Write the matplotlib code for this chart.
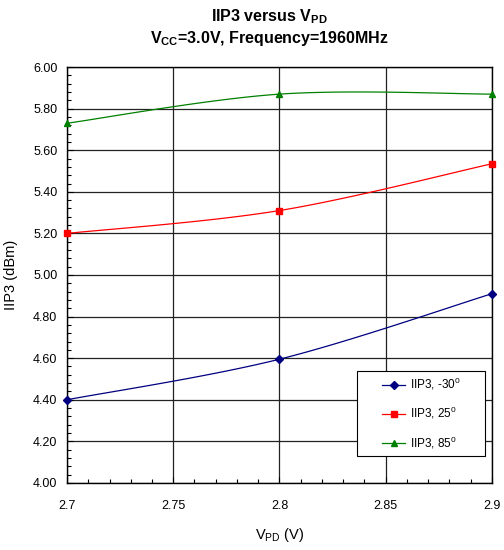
import numpy as np
import matplotlib
matplotlib.use('Agg')
import matplotlib.pyplot as plt
from matplotlib.ticker import MultipleLocator, FormatStrFormatter
from matplotlib.patches import Rectangle

plt.rcParams['font.family'] = ['Liberation Sans', 'DejaVu Sans']
plt.rcParams['mathtext.fontset'] = 'custom'
plt.rcParams['mathtext.rm'] = 'Liberation Sans'
plt.rcParams['mathtext.it'] = 'Liberation Sans'
plt.rcParams['mathtext.bf'] = 'Liberation Sans:bold'
plt.rcParams['mathtext.default'] = 'regular'

# data
vpd = [2.7, 2.8, 2.9]
iip3_m30 = [4.40, 4.595, 4.91]
iip3_25 = [5.20, 5.31, 5.535]
iip3_85 = [5.73, 5.87, 5.87]
labels = ['IIP3, -30$^0$', 'IIP3, 25$^0$', 'IIP3, 85$^0$']
colors = ['#000080', '#ff0000', '#008000']
markers = ['D', 's', '^']


def smooth(x, y, n=30):
    # excel style smoothed line (bezier between points)
    x = np.asarray(x, float)
    y = np.asarray(y, float)
    P = np.column_stack([x, y])
    out = []
    for i in range(len(P) - 1):
        p0 = P[i - 1] if i > 0 else P[i]
        p1 = P[i]
        p2 = P[i + 1]
        p3 = P[i + 2] if i + 2 < len(P) else P[i + 1]
        c1 = p1 + (p2 - p0) / 6.0
        c2 = p2 - (p3 - p1) / 6.0
        t = np.linspace(0, 1, n)[:, None]
        seg = ((1 - t) ** 3) * p1 + 3 * ((1 - t) ** 2) * t * c1 + 3 * (1 - t) * t ** 2 * c2 + t ** 3 * p2
        out.append(seg if i == 0 else seg[1:])
    s = np.vstack(out)
    return s[:, 0], s[:, 1]


fig = plt.figure(figsize=(5.04, 5.5), dpi=100)
ax = fig.add_axes([0.133, 0.122, 0.843, 0.756])

for ys, lab, c, m in zip([iip3_m30, iip3_25, iip3_85], labels, colors, markers):
    sx, sy = smooth(vpd, ys)
    ms = 4 if m == 'D' else 5
    ax.plot(sx, sy, color=c, lw=0.9, zorder=3)
    ax.plot(vpd, ys, linestyle='none', marker=m, color=c, markersize=ms, zorder=4, clip_on=False)
    ax.plot([], [], color=c, lw=0.9, marker=m, markersize=ms, label=lab)

ax.set_xlim(2.7, 2.9)
ax.set_ylim(4.0, 6.0)
ax.xaxis.set_minor_locator(MultipleLocator(0.01))
ax.yaxis.set_major_locator(MultipleLocator(0.2))
ax.yaxis.set_minor_locator(MultipleLocator(0.04))
ax.yaxis.set_major_formatter(FormatStrFormatter('%.2f'))
ax.set_xticks([2.7, 2.75, 2.8, 2.85, 2.9])
ax.set_xticklabels(['2.7', '2.75', '2.8', '2.85', '2.9'])

ax.tick_params(which='major', direction='in', length=4, width=0.8, labelsize=9, colors='black')
ax.tick_params(which='minor', direction='in', length=3, width=0.8)
ax.tick_params(axis='x', which='major', pad=12.5)
ax.tick_params(axis='y', which='major', pad=7)
ax.grid(True, which='major', color='#222222', lw=0.9)
for s in ax.spines.values():
    s.set_color('black')
    s.set_linewidth(1.0)

ax.set_xlabel('V$_{PD}$ (V)', fontsize=10.5, labelpad=10)
ax.set_ylabel('IIP3 (dBm)', fontsize=10.5, labelpad=11)
fig.text(0.535, 0.970, 'IIP3 versus V$_{PD}$', ha='center', va='center', fontsize=11.5, fontweight='bold')
fig.text(0.535, 0.930, 'V$_{CC}$=3.0V, Frequency=1960MHz', ha='center', va='center', fontsize=11.5, fontweight='bold')

# legend box drawn separately (wide side padding)
ax.add_patch(Rectangle((0.682, 0.065), 0.302, 0.204, transform=ax.transAxes,
                       facecolor='white', edgecolor='black', lw=0.8, zorder=5))
leg = ax.legend(loc='center', bbox_to_anchor=(0.834, 0.1675), fontsize=8.5, frameon=False,
                borderpad=0, labelspacing=1.1, handlelength=1.95, handletextpad=0.35)
leg.set_zorder(6)

fig.savefig('out.png', dpi=100)
